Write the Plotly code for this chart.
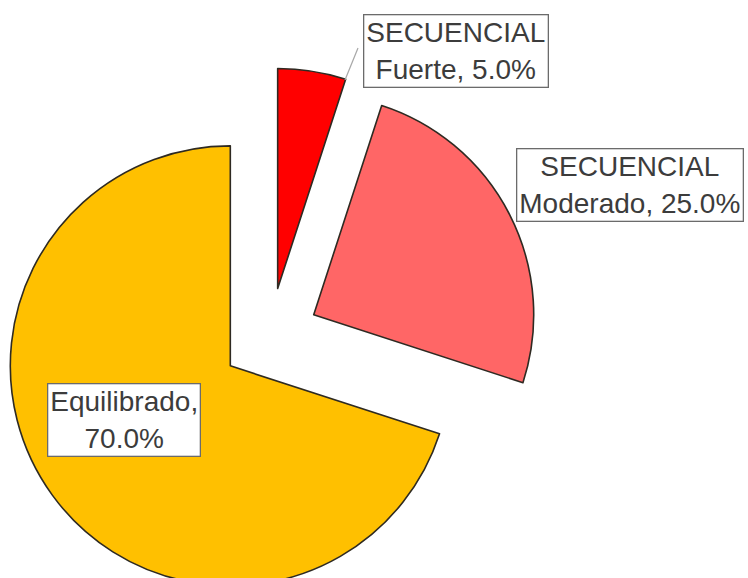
"""Exploded pie: SECUENCIAL / Equilibrado distribution."""

import plotly.graph_objects as go

# data
groups = ["SECUENCIAL", "SECUENCIAL", ""]
levels = ["Fuerte", "Moderado", "Equilibrado"]
values = [5.0, 25.0, 70.0]
colors = ["#FF0000", "#FF6666", "#FFC000"]

W, H = 748, 674  # page is cut to 578 px, as the source image is
CX, R, PULL = 270, 220, 0.223

total = sum(values)
labels = []
for g, lv, v in zip(groups, levels, values):
    pct = f"{v / total * 100:.1f}%"
    labels.append(f"{g}<br>{lv}, {pct}" if g else f"{lv},<br>{pct}")

# box centres in page pixels (x, y from top)
label_pos = [(455.5, 51.5), (629.5, 185), (123.5, 420)]

span = 2 * R * (1 + PULL)

fig = go.Figure(
    go.Pie(
        labels=levels,
        values=values,
        sort=False,
        direction="clockwise",
        rotation=0,
        pull=[PULL] * len(values),
        textinfo="none",
        hoverinfo="label+percent",
        marker={"colors": colors, "line": {"color": "#2e2a22", "width": 1.6}},
        domain={"x": [(CX - span / 2) / W, (CX + span / 2) / W], "y": [0, 1]},
        showlegend=False,
    )
)

for text, (px, py) in zip(labels, label_pos):
    fig.add_annotation(
        x=px / W,
        y=1 - py / H,
        xref="paper",
        yref="paper",
        xanchor="center",
        yanchor="middle",
        text=text,
        showarrow=False,
        align="center",
        font={"family": "Liberation Sans, Arial", "size": 28, "color": "#3c3c3c"},
        bgcolor="white",
        bordercolor="#6b6b6b",
        borderwidth=1.3,
        borderpad=2,
    )

# leader line from the "Fuerte" box to its slice
fig.add_shape(
    type="line",
    xref="paper",
    yref="paper",
    x0=358 / W,
    y0=1 - 48 / H,
    x1=345 / W,
    y1=1 - 80 / H,
    line={"color": "#a8a8a8", "width": 1.2},
)

fig.update_layout(
    width=W,
    height=H,
    margin={"l": 0, "r": 0, "t": 0, "b": 0},
    paper_bgcolor="white",
    plot_bgcolor="white",
)

fig.write_html(
    "out.html",
    config={"displayModeBar": False},
    post_script=(
        "document.documentElement.style.overflow='hidden';"
        "document.body.style.overflow='hidden';"
        "document.body.style.margin='0';"
    ),
)
